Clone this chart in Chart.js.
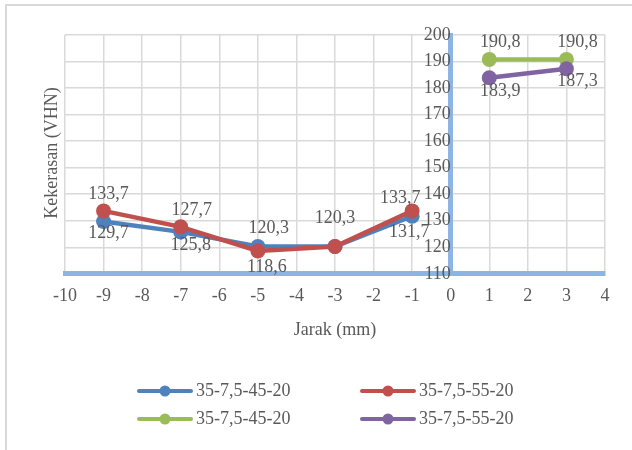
<!DOCTYPE html>
<html>
<head>
<meta charset="utf-8">
<script src="https://cdn.jsdelivr.net/npm/chart.js@4.4.0/dist/chart.umd.min.js"></script>
<style>
  html, body { margin: 0; padding: 0; background: #ffffff; }
  canvas { display: block; }
</style>
</head>
<body>
<canvas id="chart" width="632" height="450"></canvas>
<script>
// Hardness profile across the weld (distance in mm)
const distanceLeft = [-9, -7, -5, -3, -1];
const distanceRight = [1, 3];
const hardnessBlue = [129.7, 125.8, 120.3, 120.3, 131.7];
const hardnessRed = [133.7, 127.7, 118.6, 120.3, 133.7];
const hardnessGreen = [190.8, 190.8];
const hardnessPurple = [183.9, 187.3];
const seriesNames = ['35-7,5-45-20', '35-7,5-55-20', '35-7,5-45-20', '35-7,5-55-20'];
const seriesColors = ['#4F81BD', '#C0504D', '#9BBB59', '#8064A2'];
const xRange = { min: -10, max: 4, step: 1 };
const yRange = { min: 110, max: 200, step: 10 };

// Where each value label sits relative to its point (dx, dy); null = no label
const labelShift = [
  [[5, 12], [10, 13], [11, -18], null, [-3, 16]],
  [[5, -17], [11, -17], [9, 16], [0, -28], [-12, -13]],
  [[11, -17], [11, -17]],
  [[11, 14], [11, 13]]
];

const FONT = '"Liberation Serif", "Times New Roman", serif';
const TEXT = '#595959';
const AXIS_BLUE = '#8DB4E2';
const GRID = '#D9D9D9';

const toPoints = (xs, ys) => xs.map((x, i) => ({ x: x, y: ys[i] }));
const fmt = v => v.toFixed(1).replace('.', ',');

const seriesData = [
  toPoints(distanceLeft, hardnessBlue),
  toPoints(distanceLeft, hardnessRed),
  toPoints(distanceRight, hardnessGreen),
  toPoints(distanceRight, hardnessPurple)
];

const datasets = seriesData.map((pts, i) => ({
  label: seriesNames[i],
  data: pts,
  borderColor: seriesColors[i],
  backgroundColor: seriesColors[i],
  pointBackgroundColor: seriesColors[i],
  pointBorderColor: seriesColors[i],
  borderWidth: 4.5,
  pointRadius: 7.5,
  pointBorderWidth: 0,
  tension: 0,
  order: 4 - i
}));

// Chart frame, axis title on the left, value labels and legend
const decorations = {
  id: 'decorations',
  beforeDraw(chart) {
    const ctx = chart.ctx;
    ctx.save();
    ctx.strokeStyle = GRID;
    ctx.lineWidth = 2;
    ctx.beginPath();
    ctx.moveTo(6, 450);
    ctx.lineTo(6, 5);
    ctx.lineTo(632, 5);
    ctx.stroke();
    ctx.restore();
  },
  afterDatasetsDraw(chart) {
    const ctx = chart.ctx;
    ctx.save();
    ctx.font = '18px ' + FONT;
    ctx.fillStyle = TEXT;
    ctx.textAlign = 'center';
    ctx.textBaseline = 'middle';
    chart.data.datasets.forEach((ds, di) => {
      const meta = chart.getDatasetMeta(di);
      meta.data.forEach((el, pi) => {
        const s = labelShift[di][pi];
        if (!s) return;
        ctx.fillText(fmt(ds.data[pi].y), el.x + s[0], el.y + s[1]);
      });
    });
    ctx.restore();
  },
  afterDraw(chart) {
    const ctx = chart.ctx;
    ctx.save();
    // y axis title
    ctx.font = '18px ' + FONT;
    ctx.fillStyle = TEXT;
    ctx.textAlign = 'center';
    ctx.textBaseline = 'middle';
    ctx.translate(52, 153);
    ctx.rotate(-Math.PI / 2);
    ctx.fillText('Kekerasan (VHN)', 0, 0);
    ctx.restore();

    // legend: two columns, two rows
    ctx.save();
    ctx.font = '18px ' + FONT;
    ctx.textAlign = 'left';
    ctx.textBaseline = 'middle';
    const cols = [139, 362];
    const rows = [391, 419];
    chart.data.datasets.forEach((ds, i) => {
      const x = cols[i % 2];
      const y = rows[Math.floor(i / 2)];
      ctx.strokeStyle = ds.borderColor;
      ctx.lineWidth = 4;
      ctx.lineCap = 'round';
      ctx.beginPath();
      ctx.moveTo(x, y);
      ctx.lineTo(x + 52, y);
      ctx.stroke();
      ctx.fillStyle = ds.borderColor;
      ctx.beginPath();
      ctx.arc(x + 26, y, 5.5, 0, Math.PI * 2);
      ctx.fill();
      ctx.fillStyle = TEXT;
      ctx.fillText(ds.label, x + 57, y);
    });
    ctx.restore();
  }
};

new Chart(document.getElementById('chart'), {
  type: 'line',
  data: { datasets: datasets },
  plugins: [decorations],
  options: {
    responsive: false,
    animation: false,
    devicePixelRatio: 1,
    layout: { padding: { left: 65, right: 27, top: 35, bottom: 109 } },
    plugins: {
      legend: { display: false },
      tooltip: { enabled: false }
    },
    scales: {
      x: {
        type: 'linear',
        position: 'bottom',
        min: xRange.min,
        max: xRange.max,
        ticks: {
          stepSize: xRange.step,
          padding: 12,
          color: TEXT,
          font: { family: FONT, size: 18 }
        },
        grid: { color: GRID, lineWidth: 1.5, drawTicks: false },
        border: { color: AXIS_BLUE, width: 5 },
        title: {
          display: true,
          text: 'Jarak (mm)',
          color: TEXT,
          font: { family: FONT, size: 18 },
          padding: { top: 0, bottom: 0 }
        }
      },
      y: {
        type: 'linear',
        position: { x: 0 },
        min: yRange.min,
        max: yRange.max,
        ticks: {
          stepSize: yRange.step,
          padding: 14,
          color: TEXT,
          font: { family: FONT, size: 18 }
        },
        grid: { color: GRID, lineWidth: 1.5, drawTicks: false },
        border: { color: AXIS_BLUE, width: 5 }
      }
    }
  }
});
</script>
</body>
</html>
